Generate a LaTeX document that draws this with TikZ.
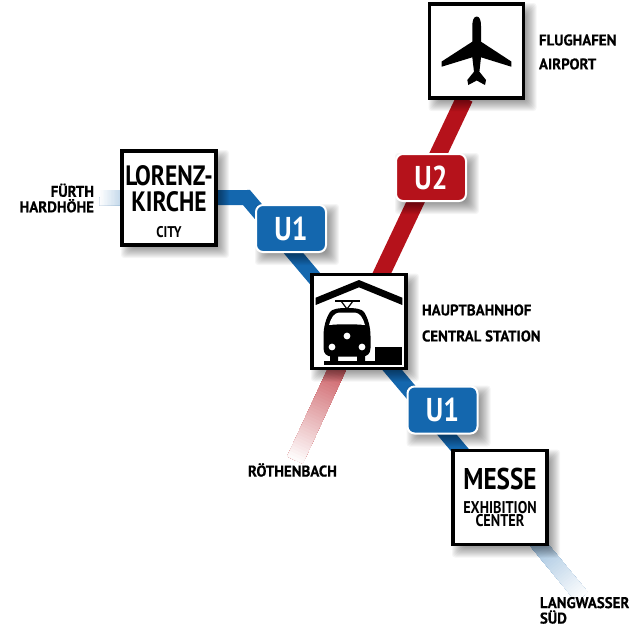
\documentclass[tikz,border=0pt]{standalone}
\usepackage{fontspec}
\setmainfont{PT Sans}[FakeStretch=0.84]
\newfontfamily\labelfont{PT Sans}[FakeStretch=0.96,FakeBold=0.4]
\usetikzlibrary{calc,positioning}
\definecolor{ublue}{HTML}{1467AE}
\definecolor{ured}{HTML}{B5121B}
\pgfdeclarelayer{lines}
\pgfdeclarelayer{shadows}
\pgfsetlayers{lines,shadows,main}
\tikzset{
  stationbox/.style={rectangle,draw=black,fill=white,line width=3.5pt,minimum size=94pt,outer sep=0pt,inner sep=0pt,align=center,font=\bfseries},
  ubadge/.style={rectangle,rounded corners=7pt,draw=white,line width=2pt,minimum width=70pt,minimum height=47pt,outer sep=0pt,text=white,font=\bfseries\fontsize{33}{33}\selectfont},
  maplabel/.style={inner sep=0pt,outer sep=0pt,align=left,font=\labelfont\bfseries\fontsize{15.5}{15.5}\selectfont},
  iconfill/.style={fill=black,draw=none},
}
% blurred drop shadow behind a node
\newcommand{\softshadow}[1]{%
  \foreach \k in {-7,...,7}
    \fill[black,fill opacity=.04,rounded corners=3pt] ($(#1.north west)+(6+\k,6+\k)$) rectangle ($(#1.south east)+(6-\k,6-\k)$);
}
% line that fades out to white
\newcommand{\fadeline}[5]{%
  \foreach \t [evaluate=\t as \tint using {#5*(100-\t)/100}] in {0,2,...,98}
    \draw[#3!\tint!white,line width=#4] ($(#1)!{\t/100}!(#2)$) -- (#2);
}
\begin{document}
\begin{tikzpicture}[x=1pt,y=-1pt]
\useasboundingbox (0,0) rectangle (634,632);
% stations
\node[stationbox] (airport) at (476.5,51) {};
\node[stationbox] (hbf) at (359,321.5) {};
\node[stationbox] (lorenz) at (169,198) {\rule{0pt}{28pt}\fontsize{28}{25}\selectfont LORENZ-\\[4.5pt]\fontsize{28}{25}\selectfont KIRCHE\\[14pt]\fontsize{15.5}{25}\selectfont CITY};
\node[stationbox] (messe) at (500,497.5) {\fontsize{30}{30}\selectfont MESSE\\[10pt]\fontsize{17}{15}\selectfont EXHIBITION\\\fontsize{17}{15}\selectfont CENTER};
% line badges
\node[ubadge,fill=ublue] (uone) at (291,228.5) {U1};
\node[ubadge,fill=ured] (utwo) at (431,177.5) {U2};
\node[ubadge,fill=ublue] (uonesouth) at (442.5,410) {U1};
% labels
\node[maplabel,anchor=west] (flug) at (539,40) {FLUGHAFEN};
\node[maplabel,anchor=west] (air) at (539,64) {AIRPORT};
\node[maplabel,anchor=west] (haupt) at (422,310) {HAUPTBAHNHOF};
\node[maplabel,anchor=west] (central) at (422,336) {CENTRAL STATION};
\node[maplabel,anchor=west] (roethen) at (248,470) {RÖTHENBACH};
\node[maplabel,anchor=east,align=right] (fuerth) at (94,198) {FÜRTH\\HARDHÖHE};
\node[maplabel,anchor=north west] (lang) at (540,597) {LANGWASSER\\SÜD};
% free ends and bend
\coordinate (ubend) at (246.5,197.5);
\coordinate (fuerthend) at (100,197.5);
\coordinate (langend) at (582,597);
\coordinate (roethenend) at (295,460);
\begin{pgfonlayer}{lines}
\draw[ured,line width=17pt] (airport.256) -- (hbf.center);
\fadeline{hbf.center}{roethenend}{ured}{17pt}{100}
\fadeline{messe.center}{langend}{ublue}{15pt}{72}
\fadeline{lorenz.center}{fuerthend}{ublue}{15pt}{80}
\draw[ublue,line width=15pt] (lorenz.center) -- (ubend) -- (messe.center);
\end{pgfonlayer}
\begin{pgfonlayer}{shadows}
\softshadow{airport}
\softshadow{hbf}
\softshadow{lorenz}
\softshadow{messe}
\softshadow{uone}
\softshadow{utwo}
\softshadow{uonesouth}
\end{pgfonlayer}
% plane
\fill[iconfill] (476.7,16.5) .. controls (473.5,16.5) and (472.3,21) .. (472.3,26) -- (472.3,41.7) -- (441.7,61.5) -- (441.7,66.7) -- (472.3,57.3) -- (474,71.7) -- (467.3,80) -- (468.3,85) -- (476.7,80.5) -- (485,85) -- (486,80) -- (479.4,71.7) -- (481,57.3) -- (511.3,66.7) -- (511.3,61.5) -- (481,41.7) -- (481,26) .. controls (481,21) and (479.9,16.5) .. (476.7,16.5) -- cycle;
% roof
\fill[iconfill] (359,280) -- (402.3,297.7) -- (402.3,305) -- (359,287.3) -- (315.7,305) -- (315.7,297.7) -- cycle;
% pantograph
\draw[black,line width=1.2pt] (335,301) -- (360,301);
\draw[black,line width=1.2pt] (341,301) -- (347,309) -- (353,301);
% train
\fill[iconfill] (347,308) .. controls (338,308) and (332,309) .. (330,312) .. controls (326,318) and (323.5,327) .. (323.5,336) -- (323.5,348) .. controls (323.5,354) and (327,356.5) .. (332,356.5) -- (362,356.5) .. controls (367,356.5) and (370.5,354) .. (370.5,348) -- (370.5,336) .. controls (370.5,327) and (368,318) .. (364,312) .. controls (362,309) and (356,308) .. (347,308) -- cycle;
\fill[white] (329,325) .. controls (331,318) and (334,313) .. (339,312.5) -- (355,312.5) .. controls (360,313) and (363,318) .. (365,325) .. controls (354,324) and (340,324) .. (329,325) -- cycle;
\fill[white] (332,347) circle (3.4) (362,347) circle (3.4) (347,336) circle (3.4);
\fill[iconfill] (330,356) rectangle (338,361) (357,356) rectangle (365,361);
\fill[iconfill] (324,360.5) rectangle (402.3,365);
\fill[iconfill] (375,347) rectangle (402.3,365);
\end{tikzpicture}
\end{document}
